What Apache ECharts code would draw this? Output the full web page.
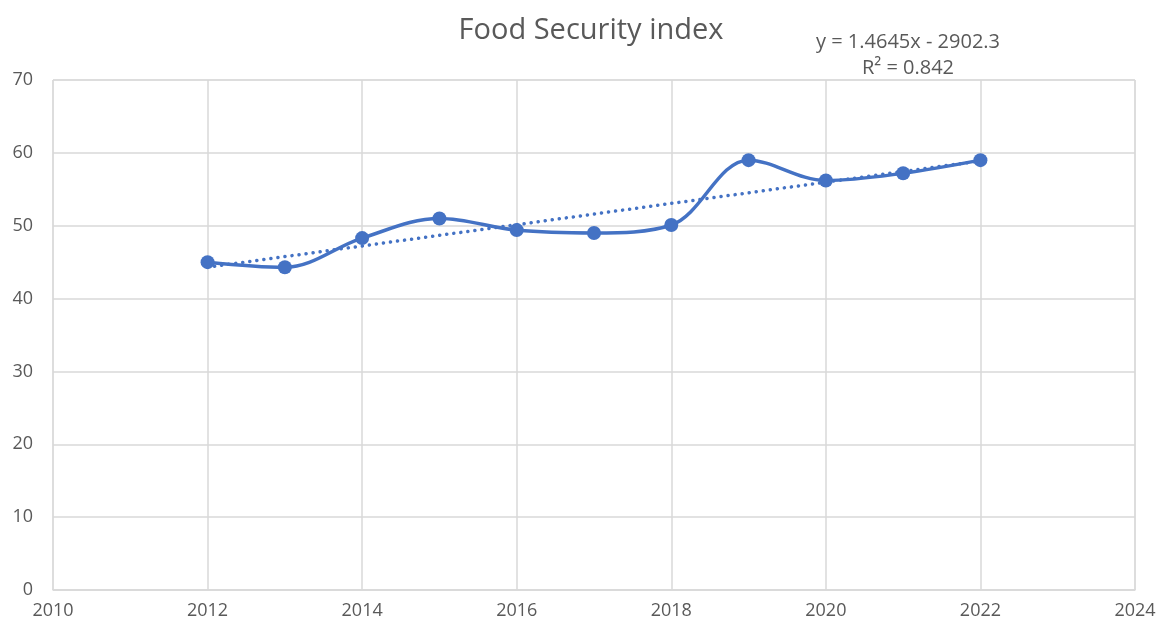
<!DOCTYPE html>
<html>
<head>
<meta charset="utf-8">
<script src="https://cdn.jsdelivr.net/npm/echarts@6/dist/echarts.min.js"></script>
<style>
    html, body { margin: 0; padding: 0; background: #fff; }
    #chart { width: 1159px; height: 627px; }
</style>
</head>
<body>
<div id="chart"></div>
<script>
// 数据
const years = [2012, 2013, 2014, 2015, 2016, 2017, 2018, 2019, 2020, 2021, 2022];
const foodIndex = [45.0, 44.3, 48.3, 51.0, 49.4, 49.0, 50.1, 59.0, 56.2, 57.2, 59.0];
// 趋势线端点 (y = 1.4645x - 2902.3)
const trendYears = [2012, 2022];
const trendValues = [44.3, 58.9];
const equationText = ['y = 1.4645x - 2902.3', 'R² = 0.842'];

const textColor = '#595959';
const lineColor = '#4472C4';
const gridColor = '#d9d9d9';
const font = '"Open Sans", "Liberation Sans", sans-serif';

let chart = echarts.init(document.getElementById('chart'));

chart.setOption({
    animation: false,
    title: {
        text: 'Food Security index',
        left: 586,
        top: 11,
        textAlign: 'center',
        textStyle: { color: textColor, fontSize: 29, fontWeight: 'normal', fontFamily: font }
    },
    // 趋势线公式
    graphic: equationText.map((t, i) => ({
        type: 'text',
        x: 908,
        y: 32 + i * 26,
        style: {
            text: t,
            fill: textColor,
            font: '20px ' + font,
            textAlign: 'center'
        }
    })),
    grid: { left: 53, right: 24, top: 80, bottom: 37, show: true, borderColor: gridColor, borderWidth: 1 },
    xAxis: {
        type: 'value',
        min: 2010,
        max: 2024,
        interval: 2,
        axisLine: { show: true, lineStyle: { color: gridColor, width: 1.5 } },
        axisTick: { show: false },
        axisLabel: { color: textColor, fontSize: 18, fontFamily: font, margin: 12, formatter: v => String(v) },
        splitLine: { show: true, lineStyle: { color: gridColor, width: 1.5 } }
    },
    yAxis: {
        type: 'value',
        min: 0,
        max: 70,
        interval: 10,
        axisLine: { show: false },
        axisTick: { show: false },
        axisLabel: { color: textColor, fontSize: 18, fontFamily: font, margin: 20 },
        splitLine: { show: true, lineStyle: { color: gridColor, width: 1.5 } }
    },
    series: [{
        type: 'line',
        data: trendYears.map((x, i) => [x, trendValues[i]]),
        showSymbol: false,
        lineStyle: { color: lineColor, width: 3.5, type: [0.1, 7], cap: 'round' },
        z: 2
    }, {
        type: 'line',
        data: years.map((x, i) => [x, foodIndex[i]]),
        smooth: 0.35,
        symbol: 'circle',
        symbolSize: 14,
        itemStyle: { color: lineColor },
        lineStyle: { color: lineColor, width: 3.5 },
        z: 3
    }]
});
</script>
</body>
</html>
